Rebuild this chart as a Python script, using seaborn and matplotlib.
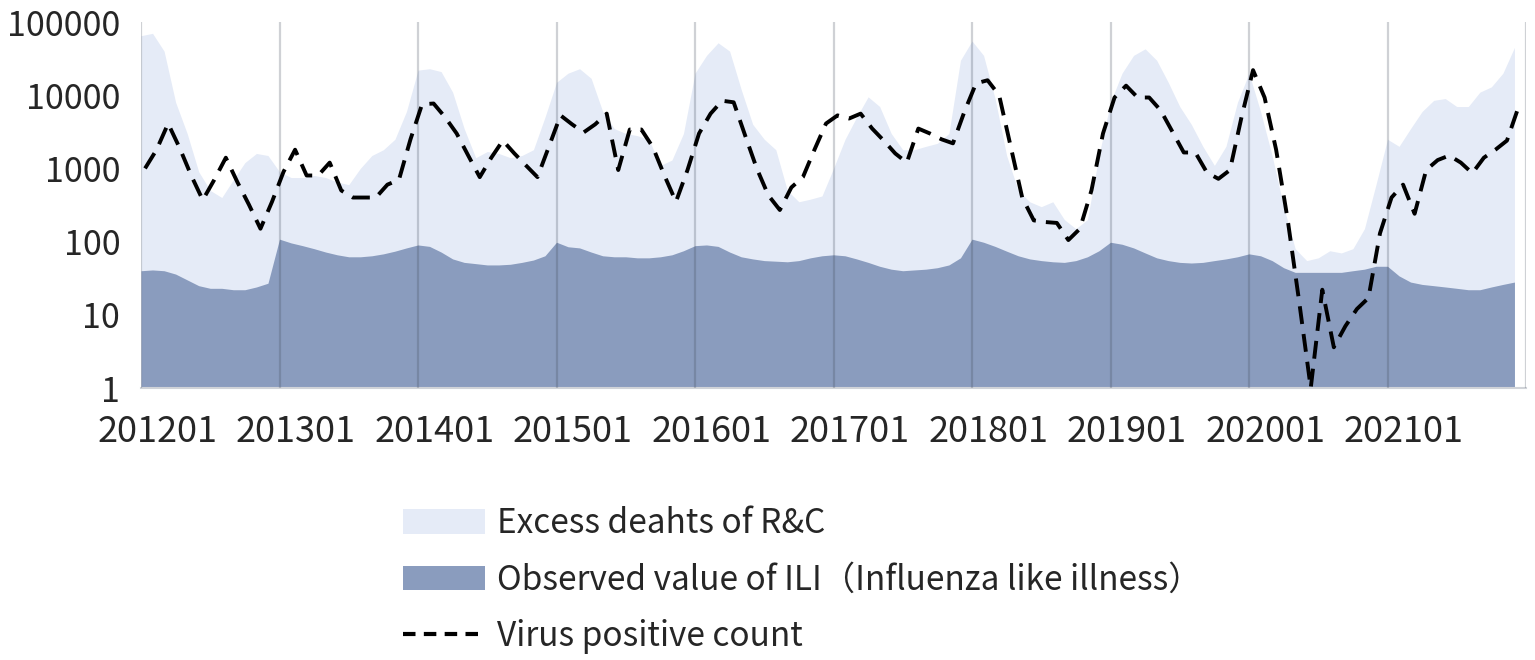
import numpy as np
import pandas as pd
import matplotlib
matplotlib.use("Agg")
import matplotlib.pyplot as plt
from matplotlib.patches import Patch
from matplotlib.lines import Line2D
import seaborn as sns

# ---------------- data (monthly, 201201 .. 202112) ----------------
years = list(range(2012, 2022))
months = [f"{y}{m:02d}" for y in years for m in range(1, 13)]
year_labels = [f"{y}01" for y in years]

excess_deaths = [
    65000, 70000, 40000, 8000, 3000, 900, 500, 400, 700, 1200, 1600, 1500,
    900, 750, 750, 800, 750, 650, 600, 1000, 1500, 1800, 2500, 6000,
    22000, 23000, 21000, 11000, 3500, 1400, 1700, 1600, 1400, 1500, 1800, 5000,
    15000, 20000, 23000, 17000, 6000, 3500, 3000, 2800, 2500, 1100, 1300, 3000,
    20000, 35000, 52000, 40000, 12000, 4000, 2500, 1800, 500, 350, 380, 420,
    1000, 2500, 5000, 9500, 7000, 3000, 1800, 1800, 2000, 2200, 3000, 30000,
    55000, 35000, 9000, 1500, 500, 350, 300, 350, 200, 150, 200, 1500,
    8000, 20000, 35000, 43000, 30000, 15000, 7000, 4000, 2000, 1100, 2000, 8000,
    20000, 6000, 1500, 300, 80, 55, 60, 75, 70, 80, 150, 600,
    2500, 2000, 3500, 6000, 8500, 9000, 7000, 7000, 11000, 13000, 20000, 45000,
]

ili_observed = [
    40, 41, 40, 36, 30, 25, 23, 23, 22, 22, 24, 27,
    108, 96, 88, 80, 72, 66, 62, 62, 64, 68, 74, 82,
    90, 86, 72, 58, 52, 50, 48, 48, 49, 52, 56, 64,
    98, 85, 82, 72, 64, 62, 62, 60, 60, 62, 66, 75,
    88, 90, 86, 72, 62, 58, 55, 54, 53, 55, 60, 64,
    66, 64, 58, 52, 46, 42, 40, 41, 42, 44, 48, 60,
    108, 98, 86, 74, 64, 58, 55, 53, 52, 55, 62, 75,
    98, 92, 82, 70, 60, 55, 52, 51, 52, 55, 58, 62,
    68, 64, 55, 44, 38, 38, 38, 38, 38, 40, 42, 46,
    46, 34, 28, 26, 25, 24, 23, 22, 22, 24, 26, 28,
]

virus_positive = [
    1000, 1800, 4100, 1900, 800, 370, 700, 1400, 650, 320, 150, 350,
    900, 1800, 800, 800, 1200, 500, 400, 400, 400, 600, 700, 2500,
    7500, 7700, 5000, 3000, 1500, 760, 1400, 2400, 1600, 1100, 760, 2000,
    5300, 4000, 3100, 4000, 5600, 950, 3400, 3400, 1950, 800, 350, 950,
    3000, 5600, 8400, 8000, 2800, 1000, 430, 270, 550, 760, 1800, 4100,
    5300, 4800, 5600, 3500, 2400, 1600, 1200, 3500, 3000, 2500, 2200, 6000,
    14500, 16000, 10000, 2000, 400, 195, 185, 180, 105, 150, 500, 3000,
    9300, 13500, 9300, 9300, 6200, 3200, 1650, 1650, 880, 720, 950, 5000,
    22000, 9300, 1800, 200, 15, 1, 22, 3.6, 7, 12, 17, 130,
    400, 600, 240, 950, 1300, 1500, 1200, 860, 1400, 1800, 2400, 6900,
]

labels = ["Excess deahts of R&C",
          "Observed value of ILI（Influenza like illness）",
          "Virus positive count"]

# ---------------- style ----------------
sns.set_theme(style="white")
plt.rcParams["font.family"] = ["Noto Sans CJK SC", "DejaVu Sans"]

LIGHT = "#E5EBF7"
DARK = "#8A9CBE"
TXT = "#262626"

df = pd.DataFrame({
    "month": months,
    "idx": np.arange(len(months)),
    "excess": excess_deaths,
    "ili": ili_observed,
    "virus": virus_positive,
})
df["vx"] = df["idx"] + 0.35

fig = plt.figure(figsize=(15.35, 6.6), dpi=100)
ax = fig.add_axes([141 / 1535, 272 / 660, 1385 / 1535, 366 / 660])

ax.fill_between(df["idx"], 1, df["excess"], color=LIGHT, linewidth=0, zorder=1)
ax.fill_between(df["idx"], 1, df["ili"], color=DARK, linewidth=0, zorder=2)
sns.lineplot(data=df, x="vx", y="virus", ax=ax, color="black",
             linewidth=2.8, dashes=False, zorder=4, legend=False)
ax.lines[-1].set_dashes((4.6, 2.6))

ax.set_yscale("log")
ax.set_ylim(1, 100000)
ax.set_xlim(0, 120)

# year gridlines
ax.set_xticks(np.arange(0, 121, 12))
ax.set_xticklabels([])
ax.set_xticks(np.arange(0, 120, 12) + 1.4, minor=True)
ax.set_xticklabels(year_labels, minor=True)
ax.grid(True, axis="x", which="major", color="#404a5a", alpha=0.25,
        linewidth=1.6, zorder=3)
ax.grid(False, axis="y")
ax.set_axisbelow(False)
ax.tick_params(axis="x", which="both", length=0)
ax.tick_params(axis="x", which="minor", pad=19, labelsize=26, labelcolor=TXT)

yt = [1, 10, 100, 1000, 10000, 100000]
ax.set_yticks(yt)
ax.set_yticklabels([str(v) for v in yt])
ax.yaxis.set_minor_locator(matplotlib.ticker.NullLocator())
ax.tick_params(axis="y", length=0, pad=15, labelsize=24.5, labelcolor=TXT)

for s in ["top", "right", "left"]:
    ax.spines[s].set_visible(False)
ax.spines["bottom"].set_color("#D0D3D8")
ax.spines["bottom"].set_linewidth(1.5)
ax.set_xlabel("")
ax.set_ylabel("")

handles = [
    Patch(facecolor=LIGHT, edgecolor="none"),
    Patch(facecolor=DARK, edgecolor="none"),
    Line2D([0], [0], color="black", linewidth=3.0, dashes=(3.0, 2.0)),
]
leg = fig.legend(handles, labels, loc="upper left",
                 bbox_to_anchor=(403 / 1535, 1 - 506 / 660),
                 frameon=False, fontsize=24, handlelength=2.45,
                 handleheight=0.75, handletextpad=0.36, labelspacing=0.64,
                 borderaxespad=0, borderpad=0)
for t in leg.get_texts():
    t.set_color(TXT)

fig.savefig("out.png", dpi=100)
